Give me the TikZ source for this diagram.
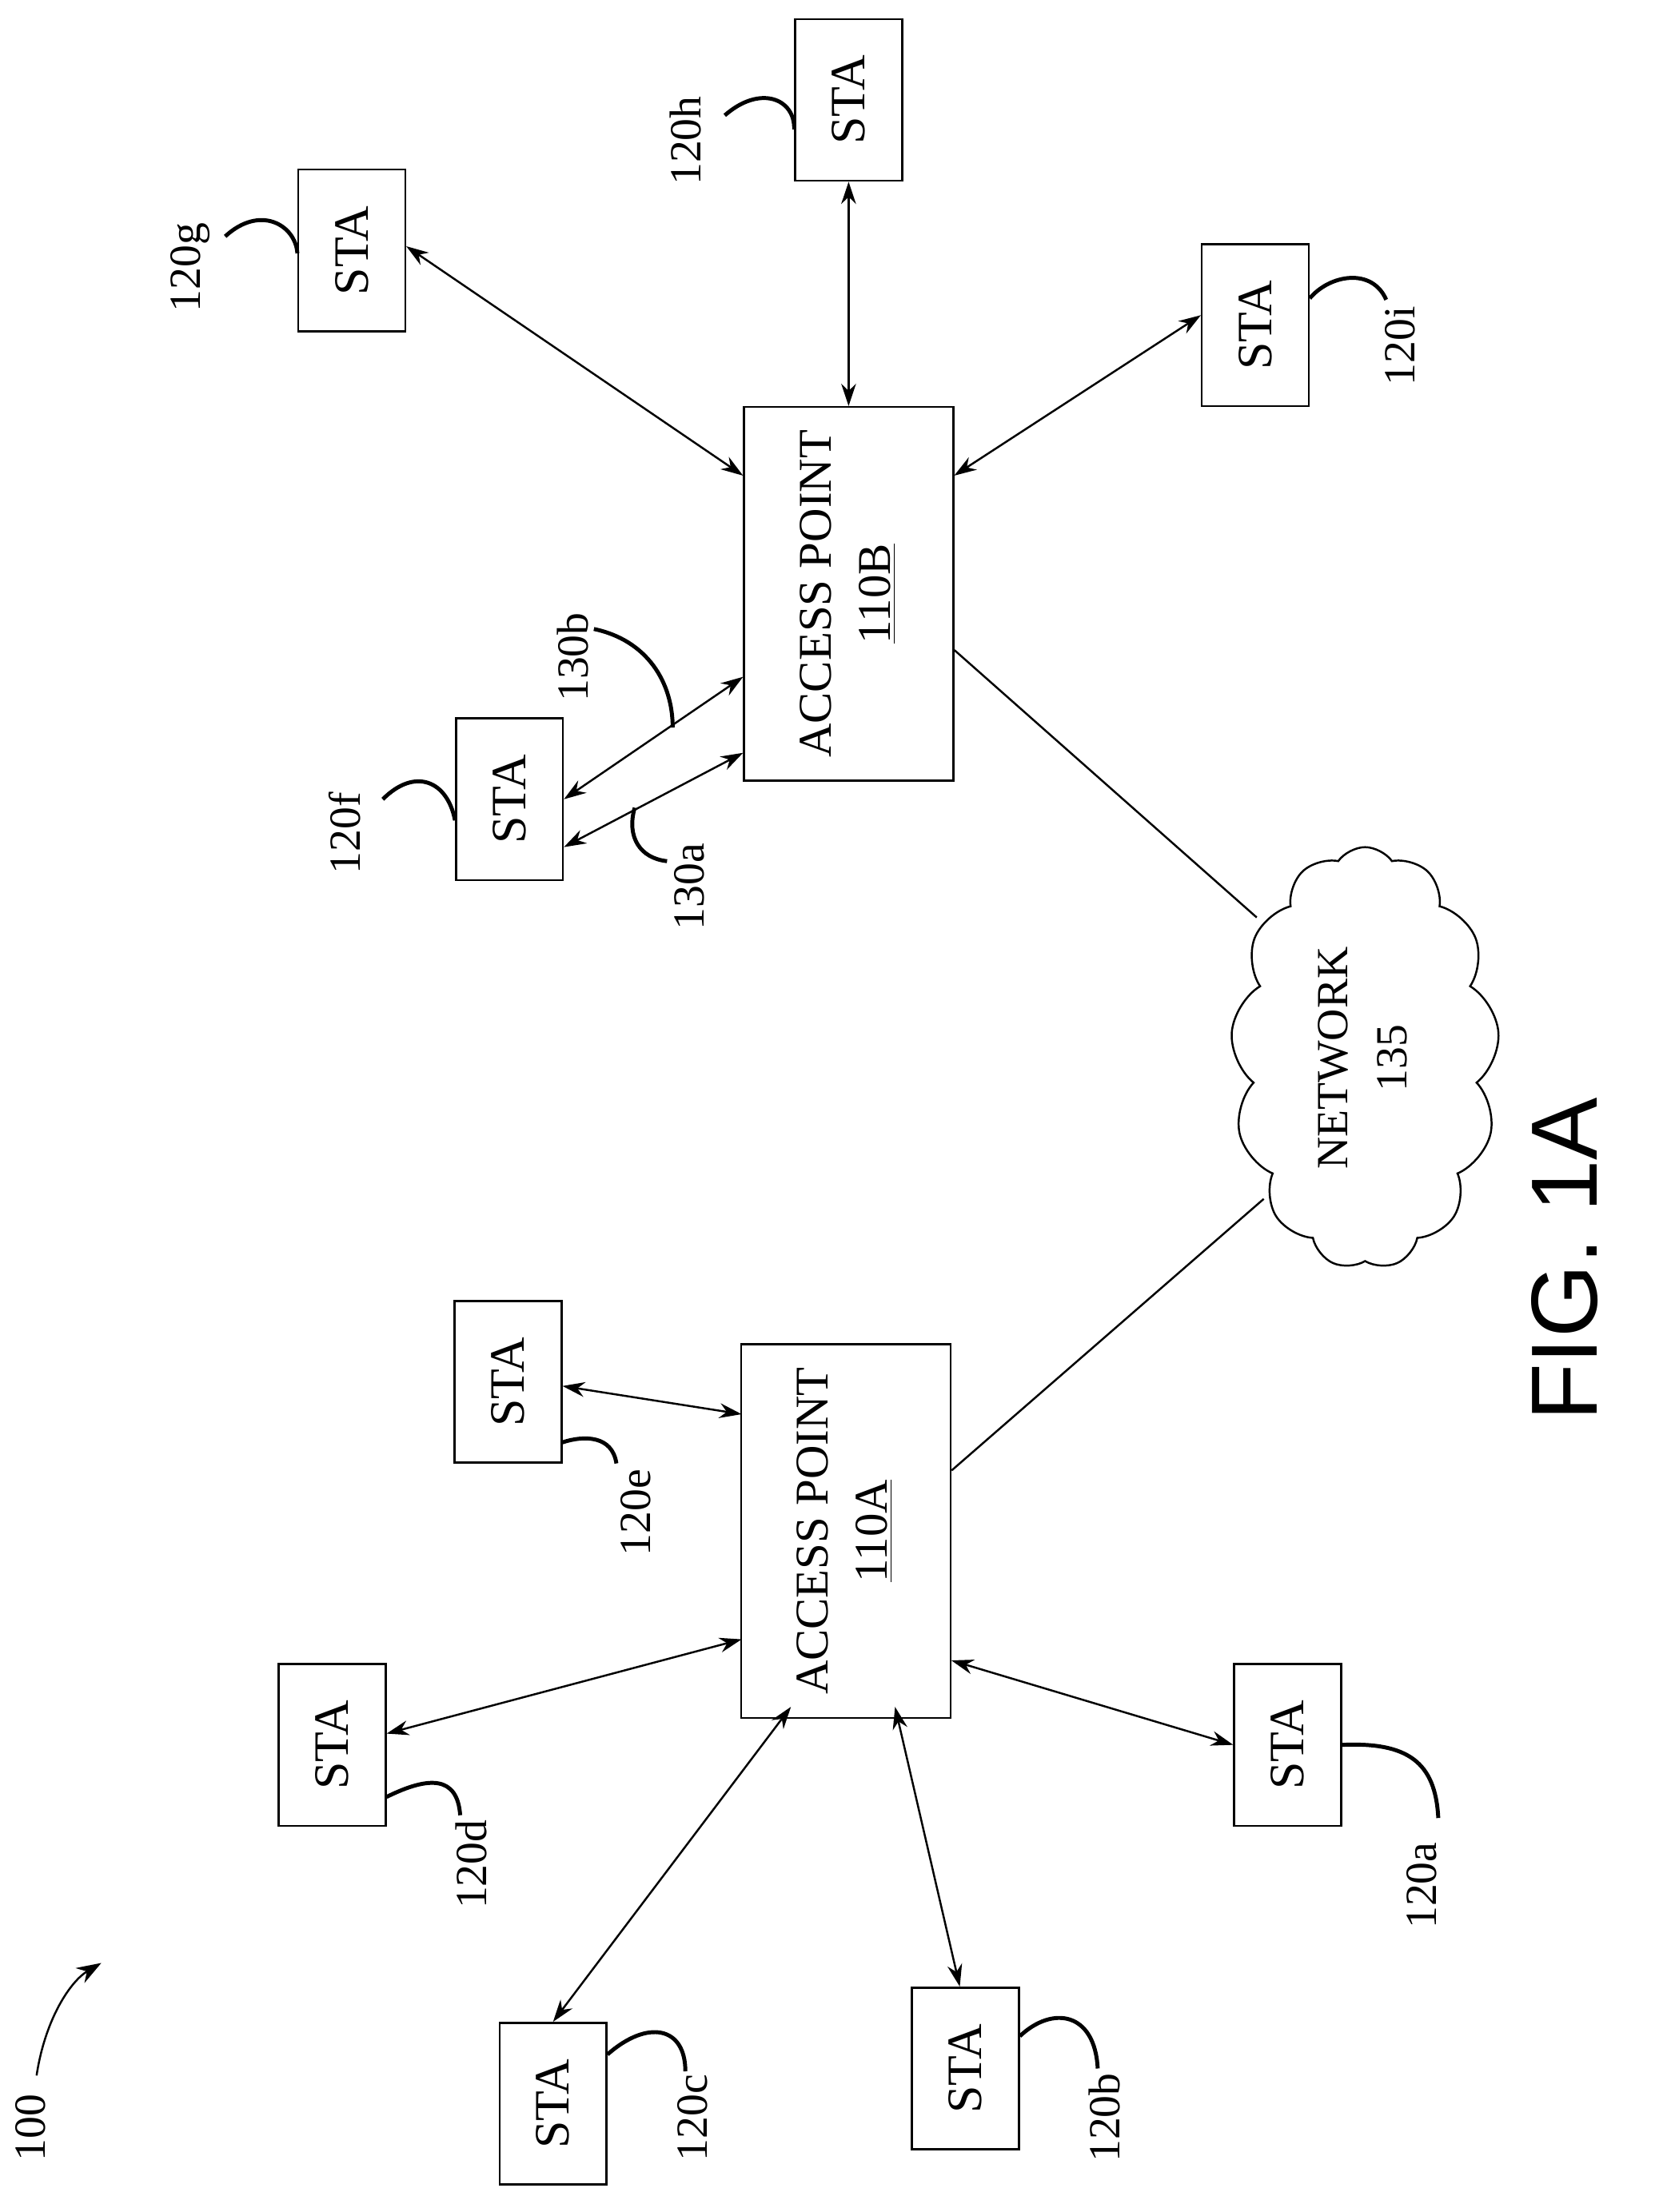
\documentclass[tikz,border=0pt]{standalone}
\usepackage{fontspec}
\setmainfont{Liberation Serif}
\newfontfamily\figfont{Liberation Sans}
\usetikzlibrary{arrows.meta,shapes.symbols}
\begin{document}
\begin{tikzpicture}[x=0.02cm,y=-0.02cm,
 sta/.style={draw,thick,minimum width=1.52cm,minimum height=2.3cm,inner sep=0pt,font=\fontsize{20}{22}\selectfont},
 ap/.style={draw,thick,minimum width=2.98cm,minimum height=5cm,align=center,font=\fontsize{19}{24}\selectfont},
 lbl/.style={rotate=90,font=\fontsize{18}{20}\selectfont},
 link/.style={thick,{Stealth[length=9pt,width=6pt]}-{Stealth[length=9pt,width=6pt]}},
 lead/.style={line width=1.6pt},
 wire/.style={thick}]
\useasboundingbox (0,0) rectangle (1190,1572);
% access points
\node[ap] (apB) at (603,422) {\rotatebox{90}{\begin{tabular}{c}ACCESS POINT\\\underline{110B}\end{tabular}}};
\node[ap] (apA) at (601,1088) {\rotatebox{90}{\begin{tabular}{c}ACCESS POINT\\\underline{110A}\end{tabular}}};
% stations
\node[sta] (h) at (603,71) {\rotatebox{90}{STA}};
\node[sta] (g) at (250,178) {\rotatebox{90}{STA}};
\node[sta] (i) at (892,231) {\rotatebox{90}{STA}};
\node[sta] (f) at (362,568) {\rotatebox{90}{STA}};
\node[sta] (e) at (361,982) {\rotatebox{90}{STA}};
\node[sta] (d) at (236,1240) {\rotatebox{90}{STA}};
\node[sta] (a) at (915,1240) {\rotatebox{90}{STA}};
\node[sta] (c) at (393,1495) {\rotatebox{90}{STA}};
\node[sta] (b) at (686,1470) {\rotatebox{90}{STA}};
% network
\node[cloud,draw,thick,cloud puffs=13,cloud puff arc=110,aspect=0.6,minimum width=3.6cm,minimum height=6cm,align=center,font=\fontsize{18}{24}\selectfont] (net) at (970,752) {\rotatebox{90}{\begin{tabular}{c}NETWORK\\135\end{tabular}}};
% wires
\coordinate (nB) at (893,652);
\coordinate (nA) at (898,852);
\draw[wire] (apB.east |- 0,462) -- (nB);
\draw[wire] (apA.east |- 0,1045) -- (nA);
% links
\draw[link] (h.south) -- (apB.north);
\draw[link] (g.east |- 0,175) -- (528,338);
\draw[link] (i.west |- 0,224) -- (678,338);
\draw[link] (f.east |- 0,568) -- (528,481);
\draw[link] (f.east |- 0,602) -- (528,535);
\draw[link] (e.east |- 0,985) -- (527,1005);
\draw[link] (d.east |- 0,1232) -- (527,1165);
\draw[link] (a.west |- 0,1240) -- (676,1180);
\draw[link] (c.north -| 393,0) -- (562,1213);
\draw[link] (b.north -| 682,0) -- (636,1213);
% labels and leaders
\node[lbl] (lh) at (487,100) {120h};
\draw[lead] (515,82) .. controls (540,60) and (565,70) .. (h.west |- 0,92);
\node[lbl] (lg) at (135,190) {120g};
\draw[lead] (160,168) .. controls (185,145) and (210,160) .. (g.west |- 0,180);
\node[lbl] (li) at (995,246) {120i};
\draw[lead] (985,213) .. controls (975,190) and (945,195) .. (i.east |- 0,212);
\node[lbl] (lf) at (245,592) {120f};
\draw[lead] (272,568) .. controls (295,545) and (318,555) .. (f.west |- 0,583);
\node[lbl] (l30b) at (407,467) {130b};
\draw[lead] (422,447) .. controls (460,455) and (478,485) .. (478,517);
\node[lbl] (l30a) at (490,630) {130a};
\draw[lead] (474,612) .. controls (455,610) and (445,595) .. (451,574);
\node[lbl] (le) at (452,1075) {120e};
\draw[lead] (438,1040) .. controls (435,1020) and (415,1020) .. (e.east |- 0,1025);
\node[lbl] (ld) at (335,1325) {120d};
\draw[lead] (327,1290) .. controls (325,1262) and (305,1262) .. (d.east |- 0,1277);
\node[lbl] (la) at (1010,1340) {120a};
\draw[lead] (1022,1292) .. controls (1020,1252) and (1000,1238) .. (a.east |- 0,1240);
\node[lbl] (lc) at (492,1505) {120c};
\draw[lead] (487,1472) .. controls (487,1440) and (460,1435) .. (c.east |- 0,1460);
\node[lbl] (lb) at (785,1505) {120b};
\draw[lead] (780,1470) .. controls (778,1430) and (748,1425) .. (b.east |- 0,1447);
\node[lbl] (l100) at (22,1512) {100};
\coordinate (t100) at (72,1395);
\draw[thick,-{Stealth[length=10pt,width=7pt]}] (26,1475) .. controls (32,1435) and (50,1408) .. (t100);
\node[rotate=90,font=\figfont\fontsize{38}{42}\selectfont] (fig) at (1112,895) {FIG. 1A};
\end{tikzpicture}
\end{document}
